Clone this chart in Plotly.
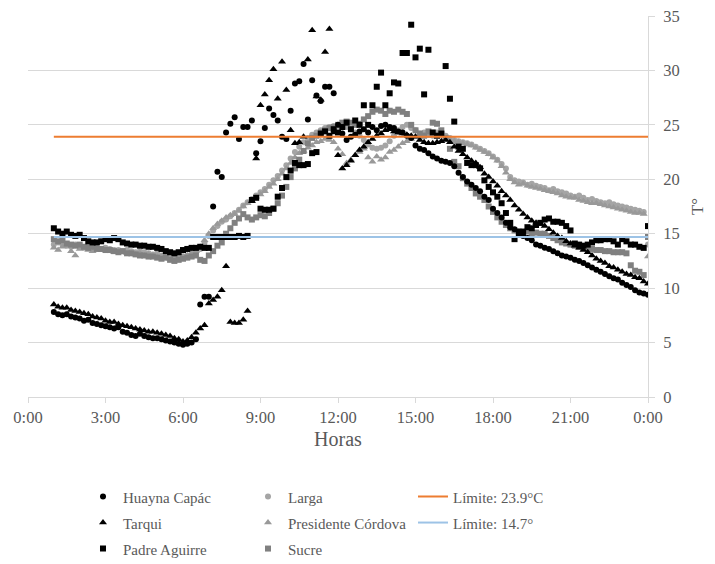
import plotly.graph_objects as go

# sampling times (hours), every 10 min from 1:00 to 24:00
N = 139
hours = [1 + i / 6 for i in range(N)]

huayna_capac = [
    7.8, 7.6, 7.5, 7.6, 7.4, 7.3,
    7.2, 7.0, 7.1, 6.8, 6.7, 6.6,
    6.5, 6.4, 6.3, 6.4, 6.0, 5.9,
    5.7, 5.6, 5.8, 5.6, 5.5, 5.4,
    5.4, 5.3, 5.2, 5.1, 5.0, 4.9,
    4.8, 4.9, 5.0, 5.3, 8.5, 9.2,
    9.2, 17.5, 20.7, 20.2, 24.3, 25.1,
    25.7, 23.7, 24.8, 24.8, 25.4, 22.4,
    23.5, 24.7, 26.5, 25.9, 25.4, 23.9,
    23.7, 26.3, 28.8, 29.0, 30.6, 25.5,
    29.1, 27.7, 27.2, 28.5, 28.5, 27.9,
    25.0, 24.2, 23.6, 23.9, 24.1, 24.4,
    24.6, 24.3, 24.8, 24.5, 24.9, 25.0,
    24.8, 24.7, 24.4, 24.3, 24.0, 23.8,
    23.1, 22.8, 22.7, 22.4, 22.1, 21.9,
    21.7, 21.6, 21.5, 21.2, 20.6, 20.2,
    19.8, 19.5, 19.2, 18.9, 18.4, 18.1,
    17.3, 16.9, 16.5, 16.0, 15.6, 15.4,
    15.2, 14.8, 14.6, 14.4, 14.0, 13.9,
    13.7, 13.6, 13.4, 13.2, 13.0, 12.9,
    12.8, 12.6, 12.5, 12.3, 12.1, 11.9,
    11.7, 11.5, 11.3, 11.1, 10.9, 10.8,
    10.5, 10.3, 10.1, 9.8, 9.6, 9.5,
    9.4,
]

tarqui = [
    8.5, 8.3, 8.2, 8.2, 8.0, 7.9,
    7.8, 7.7, 7.6, 7.4, 7.3, 7.2,
    7.0, 6.9, 6.9, 6.7, 6.6, 6.5,
    6.4, 6.3, 6.2, 6.1, 6.0, 6.0,
    5.9, 5.8, 5.7, 5.6, 5.4, 5.3,
    5.1, 5.2, 5.5, 5.9, 6.3, 6.6,
    8.6, 8.9, 9.2, 9.8, 12.0, 6.9,
    6.8, 6.8, 7.1, 7.9, 18.0, 21.9,
    26.8, 27.8, 29.1, 30.1, 27.4, 30.8,
    28.2, 24.5, 23.3, 23.4, 23.9, 31.0,
    33.7, 27.6, 27.3, 31.7, 33.8, 24.3,
    22.2, 21.0, 21.3, 21.7, 22.2, 22.7,
    23.0, 23.4, 23.7, 24.0, 24.2, 24.5,
    24.6, 24.4, 24.3, 24.2, 24.1, 24.0,
    23.9, 23.6, 23.4, 23.3, 23.3, 23.4,
    23.5, 23.6, 23.4, 23.0, 22.6, 22.3,
    22.0, 21.7, 21.5, 21.1, 20.5, 20.2,
    19.8, 19.4, 18.9, 18.5, 18.1, 17.6,
    17.2, 16.8, 16.5, 16.2, 16.0, 15.9,
    15.7, 15.4, 15.1, 14.8, 14.6, 14.3,
    14.1, 13.9, 13.7, 13.5, 13.3, 13.0,
    12.7, 12.5, 12.3, 12.0, 11.9, 11.7,
    11.5, 11.3, 11.2, 11.0, 10.9, 10.6,
    10.4,
]

padre_aguirre = [
    15.5, 15.2, 15.0, 15.2, 14.9, 14.8,
    14.9, 14.6, 14.3, 14.2, 14.2, 14.3,
    14.5, 14.4, 14.6, 14.5, 14.2, 14.1,
    14.0, 14.0, 13.9, 13.9, 13.8, 13.8,
    13.7, 13.6, 13.4, 13.3, 13.2, 13.3,
    13.5, 13.6, 13.7, 13.7, 13.8, 13.7,
    13.7, 14.7, 14.7, 14.7, 14.7, 14.7,
    14.7, 14.8, 14.7, 14.8, 18.1, 18.3,
    17.3, 17.2, 17.2, 17.3, 18.4, 19.2,
    20.2, 20.8, 21.5, 21.3, 21.3, 21.4,
    22.4, 22.5, 24.2, 24.4, 24.0, 24.6,
    24.3, 24.8, 25.2, 24.6, 25.4, 25.0,
    26.8, 25.0, 26.8, 28.5, 29.8, 26.8,
    27.9, 28.9, 28.8, 31.6, 31.6, 34.2,
    31.2, 32.0, 27.8, 31.9, 24.3, 24.0,
    24.2, 30.4, 27.4, 25.3, 23.0, 22.8,
    21.5, 21.3, 21.3, 21.0, 19.9, 19.3,
    18.8, 18.4, 17.8, 16.9, 16.0, 14.5,
    15.0, 15.2, 15.6, 15.5, 15.8, 16.0,
    16.3, 16.4, 16.1, 16.1, 16.0, 15.7,
    15.3, 14.1, 14.0, 13.9, 14.0, 14.2,
    14.4, 14.4, 14.5, 14.5, 14.3, 14.0,
    14.5, 14.3, 14.0, 14.0, 13.8, 13.7,
    15.7,
]

larga = [
    14.0, 14.2, 14.0, 13.9, 13.8, 14.0,
    13.8, 13.7, 13.8, 13.9, 13.7, 13.6,
    13.7, 13.6, 13.5, 13.5, 13.4, 13.5,
    13.4, 13.3, 13.4, 13.3, 13.2, 13.1,
    13.2, 13.0, 12.9, 13.0, 12.8, 12.9,
    12.9, 13.0, 13.1, 13.2, 13.6, 14.2,
    14.8, 15.3, 15.7, 16.1, 16.3, 16.6,
    16.9, 17.2, 17.6, 17.9, 18.2, 18.5,
    18.8, 19.1, 19.5, 19.9, 20.3, 20.8,
    21.3, 21.9, 22.5, 23.0, 23.4, 23.8,
    24.1, 24.3, 24.5, 24.7, 24.8, 24.9,
    24.9, 25.0, 24.8, 24.6, 24.3, 24.0,
    23.6, 23.2, 22.9, 22.8, 22.9, 23.1,
    23.5, 24.0, 24.5, 24.8, 25.0, 24.7,
    24.5, 24.2, 24.3, 24.1, 24.0, 24.3,
    24.3, 24.0, 23.8, 23.6, 23.5, 23.4,
    23.3, 23.2, 23.0, 22.8, 22.6, 22.4,
    22.1, 21.8, 21.4, 21.0, 20.2, 19.9,
    19.8, 19.7, 19.5, 19.6, 19.4, 19.3,
    19.2, 19.0, 19.1, 18.9, 18.8, 18.7,
    18.5, 18.4, 18.5, 18.3, 18.1, 18.2,
    18.0, 17.9, 17.8, 17.9, 17.7, 17.6,
    17.5, 17.4, 17.3, 17.2, 17.1, 17.0,
    14.0,
]

presidente_cordova = [
    13.7, 13.5, 13.8, 13.9, 13.4, 13.0,
    13.6, 13.7, 13.5, 13.4, 13.6, 13.5,
    13.5, 13.4, 13.3, 13.4, 13.3, 13.2,
    13.2, 13.1, 13.2, 13.0, 13.1, 13.0,
    12.9, 12.9, 12.8, 12.7, 12.8, 12.9,
    12.9, 13.0, 13.2, 13.4, 13.8, 14.4,
    15.0, 15.5, 15.9, 16.2, 16.5, 16.7,
    16.8, 17.1, 17.5, 17.8, 18.0, 18.4,
    18.6, 18.9, 19.3, 19.6, 20.0, 20.5,
    21.0, 21.5, 22.0, 22.4, 22.6, 22.9,
    23.1, 23.4, 23.5, 23.7, 23.6, 23.4,
    22.8, 22.3, 21.5, 21.8, 22.2, 22.5,
    22.8, 22.0, 21.6, 22.1, 21.8, 22.0,
    22.5, 22.7, 23.0, 23.3, 23.5, 23.7,
    23.9, 24.0, 24.1, 24.0, 24.2, 24.1,
    24.0, 23.8, 23.6, 23.5, 23.4, 23.3,
    23.2, 23.1, 22.9, 22.7, 22.5, 22.3,
    22.0, 21.7, 21.2, 20.6, 20.0, 19.7,
    19.5, 19.6, 19.4, 19.3, 19.2, 19.1,
    19.0, 18.9, 18.8, 18.7, 18.5, 18.4,
    18.3, 18.3, 18.1, 18.0, 17.9, 17.8,
    17.8, 17.7, 17.6, 17.5, 17.4, 17.3,
    17.2, 17.1, 17.0, 16.9, 16.9, 16.8,
    12.9,
]

sucre = [
    14.5, 14.3, 14.4, 14.1, 14.0, 13.9,
    14.0, 13.8, 13.7, 13.8, 13.6, 13.6,
    13.5, 13.5, 13.4, 13.3, 13.4, 13.2,
    13.2, 13.1, 13.0, 13.0, 12.9, 12.9,
    12.8, 12.7, 12.8, 12.6, 12.5, 12.6,
    12.7, 12.8, 12.9, 13.0, 12.6, 12.5,
    13.0, 13.4, 13.9, 14.2, 15.0, 15.5,
    16.0, 16.4, 16.8, 16.5, 16.3, 16.5,
    16.7, 16.6, 16.9, 17.3, 17.8, 18.5,
    19.3, 20.2, 21.0, 21.8, 22.6, 23.3,
    23.8, 24.0, 24.3, 24.5, 24.7, 24.8,
    25.0, 25.2, 25.3, 25.2, 25.0, 25.1,
    25.5, 25.8, 26.2, 26.4, 26.3, 26.0,
    26.3, 26.2, 26.4, 26.2, 26.0, 25.0,
    24.5, 24.2, 24.0, 24.4, 25.2, 25.1,
    24.5, 23.8, 22.8, 21.6, 21.2, 20.1,
    19.6, 19.2, 18.7, 18.4, 18.1, 17.5,
    17.0, 16.5, 16.1, 15.8, 15.5, 15.3,
    15.2, 15.1, 15.2, 15.0, 15.1, 15.0,
    15.0, 14.8, 14.6, 14.4, 14.2, 14.1,
    14.0, 13.9, 13.8, 13.7, 13.6, 13.6,
    13.5, 13.5, 13.4, 13.4, 13.3, 13.3,
    13.3, 13.2, 12.1, 11.6, 11.5, 11.2,
    14.7,
]

limite_alto = 23.9
limite_bajo = 14.7
limite_x = [1, 24]

tick_vals = [0, 3, 6, 9, 12, 15, 18, 21, 24]
tick_text = ["0:00", "3:00", "6:00", "9:00", "12:00", "15:00", "18:00", "21:00", "0:00"]

FONT = "Times New Roman, Liberation Serif, Tinos, DejaVu Serif, serif"
TXT = "#595959"


def lg(name):
    # legend label rendered at 15px while the legend rows keep a taller pitch
    return f"<span style='font-size:15px'>{name}</span>"


fig = go.Figure()

# gray series (drawn first, below the black ones)
fig.add_trace(go.Scatter(x=hours, y=larga, mode="markers", name=lg("Larga"), legendrank=2,
                         marker=dict(symbol="circle", size=6, color="#A5A5A5")))
fig.add_trace(go.Scatter(x=hours, y=presidente_cordova, mode="markers", name=lg("Presidente Córdova"), legendrank=5,
                         marker=dict(symbol="triangle-up", size=7, color="#999999")))
fig.add_trace(go.Scatter(x=hours, y=sucre, mode="markers", name=lg("Sucre"), legendrank=8,
                         marker=dict(symbol="square", size=6, color="#808080")))
# black series
fig.add_trace(go.Scatter(x=hours, y=huayna_capac, mode="markers", name=lg("Huayna Capác"), legendrank=1,
                         marker=dict(symbol="circle", size=6, color="#000000")))
fig.add_trace(go.Scatter(x=hours, y=tarqui, mode="markers", name=lg("Tarqui"), legendrank=4,
                         marker=dict(symbol="triangle-up", size=7, color="#000000")))
fig.add_trace(go.Scatter(x=hours, y=padre_aguirre, mode="markers", name=lg("Padre Aguirre"), legendrank=7,
                         marker=dict(symbol="square", size=6, color="#000000")))
# limits
fig.add_trace(go.Scatter(x=limite_x, y=[limite_alto] * 2, mode="lines", name=lg("Límite: 23.9°C"), legendrank=3,
                         line=dict(color="#ED7D31", width=2)))
fig.add_trace(go.Scatter(x=limite_x, y=[limite_bajo] * 2, mode="lines", name=lg("Límite: 14.7°"), legendrank=6,
                         line=dict(color="#9DC3E6", width=2)))

fig.update_layout(
    width=715, height=564,
    margin=dict(l=28, r=67, t=16, b=167, autoexpand=False),
    paper_bgcolor="white", plot_bgcolor="white",
    font=dict(family=FONT, color=TXT, size=16),
    showlegend=True,
    legend=dict(orientation="h", x=0.0887, xanchor="left", y=-0.214, yanchor="top",
                entrywidth=120, entrywidthmode="pixels", traceorder="normal",
                font=dict(family=FONT, size=17.7, color=TXT)),
    xaxis=dict(range=[0, 24], tickmode="array", tickvals=tick_vals, ticktext=tick_text,
               showgrid=False, zeroline=False, showline=True, linecolor="#D9D9D9", linewidth=1,
               ticks="outside", ticklen=5, tickcolor="#D9D9D9",
               tickfont=dict(family=FONT, size=16.5, color=TXT),
               title=dict(text="Horas", font=dict(family=FONT, size=20, color=TXT), standoff=6)),
    yaxis=dict(range=[0, 35], side="right", tickmode="array", tickvals=[0, 5, 10, 15, 20, 25, 30, 35],
               showgrid=True, gridcolor="#D9D9D9", gridwidth=1, zeroline=False,
               showline=True, linecolor="#D9D9D9", linewidth=1,
               ticks="outside", ticklen=6, tickcolor="#D9D9D9", ticklabelstandoff=5,
               tickfont=dict(family=FONT, size=16.5, color=TXT),
               title=dict(text="T°", font=dict(family=FONT, size=17, color=TXT), standoff=12)),
)

fig.write_html("out.html")
